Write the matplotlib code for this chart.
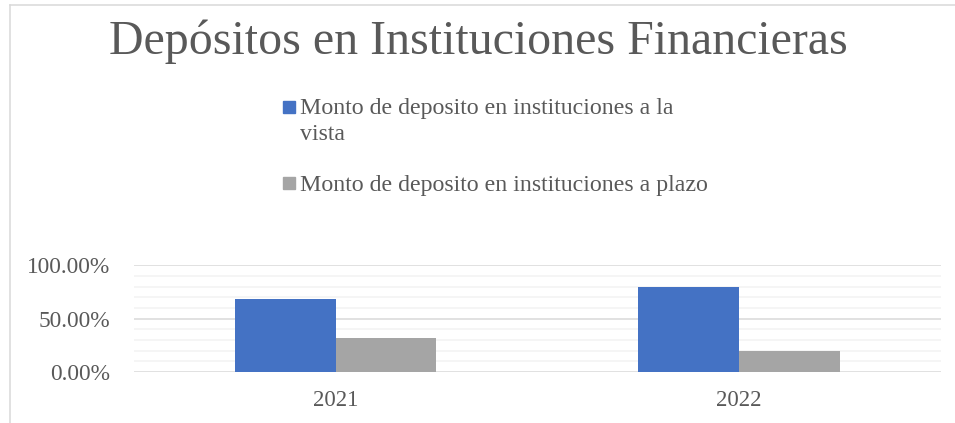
import matplotlib
matplotlib.use("Agg")
import matplotlib.pyplot as plt
import numpy as np
from matplotlib.patches import Rectangle
from matplotlib.lines import Line2D
from matplotlib.ticker import PercentFormatter, MultipleLocator

# ---- data ----
title = "Depósitos en Instituciones Financieras"
categories = ["2021", "2022"]
series_names = ["Monto de deposito en instituciones a la\nvista",
                "Monto de deposito en instituciones a plazo"]
vista = [0.68, 0.80]
plazo = [0.32, 0.20]
colors = ["#4472C4", "#A5A5A5"]
yticks = [0.0, 0.5, 1.0]

W, H = 955, 423
fig = plt.figure(figsize=(W / 100, H / 100), dpi=100)
FONT = "Liberation Serif"
TXT = "#595959"

def fx(px):
    return px / W

def fy(py):
    return 1 - py / H

# axes placement (pixels measured from reference)
left, right, top, bottom = 133.7, 941, 265.3, 372
ax = fig.add_axes([fx(left), fy(bottom), fx(right - left), (bottom - top) / H])

x = np.arange(len(categories))
bw = 0.25
ax.bar(x - bw / 2, vista, width=bw, color=colors[0], zorder=3)
ax.bar(x + bw / 2, plazo, width=bw, color=colors[1], zorder=3)

ax.set_xlim(-0.5, len(categories) - 0.5)
ax.set_ylim(0, 1.0)
ax.set_xticks(x)
ax.set_xticklabels(categories)
ax.set_yticks(yticks)
ax.yaxis.set_major_formatter(PercentFormatter(1.0, decimals=2))
ax.yaxis.set_minor_locator(MultipleLocator(0.1))

ax.grid(axis="y", which="minor", color="#F2F2F2", linewidth=1.1, zorder=0)
ax.grid(axis="y", which="major", color="#D9D9D9", linewidth=1.1, zorder=1)
ax.set_axisbelow(True)
for s in ax.spines.values():
    s.set_visible(False)
ax.tick_params(axis="both", which="both", length=0)
ax.tick_params(axis="y", pad=17)
ax.tick_params(axis="x", pad=13)
for lab in ax.get_yticklabels():
    lab.set_fontfamily(FONT)
    lab.set_fontsize(16.8)
    lab.set_color(TXT)
for lab in ax.get_xticklabels():
    lab.set_fontfamily(FONT)
    lab.set_fontsize(16.5)
    lab.set_color(TXT)

# title
fig.text(fx(478), fy(54.3), title, ha="center", va="baseline",
         fontsize=34.5, family=FONT, color=TXT)

# legend (manual, Excel-style)
baselines = [114.3, 191]
line_step = 25.8
for name, col, b in zip(series_names, colors, baselines):
    fig.add_artist(Rectangle((fx(283), fy(b - 1.5)), fx(12), 12 / H,
                             transform=fig.transFigure, color=col))
    for i, line in enumerate(name.split("\n")):
        fig.text(fx(300), fy(b + i * line_step), line, ha="left", va="baseline",
                 fontsize=17.2, family=FONT, color=TXT)

# chart border (cropped)
fig.add_artist(Line2D([fx(10), fx(10)], [fy(5.5), 0], transform=fig.transFigure,
                      color="#D9D9D9", linewidth=1.1))
fig.add_artist(Line2D([fx(10), 1], [fy(5.5), fy(5.5)], transform=fig.transFigure,
                      color="#D9D9D9", linewidth=1.1))

fig.savefig("out.png", dpi=100, facecolor="white")
